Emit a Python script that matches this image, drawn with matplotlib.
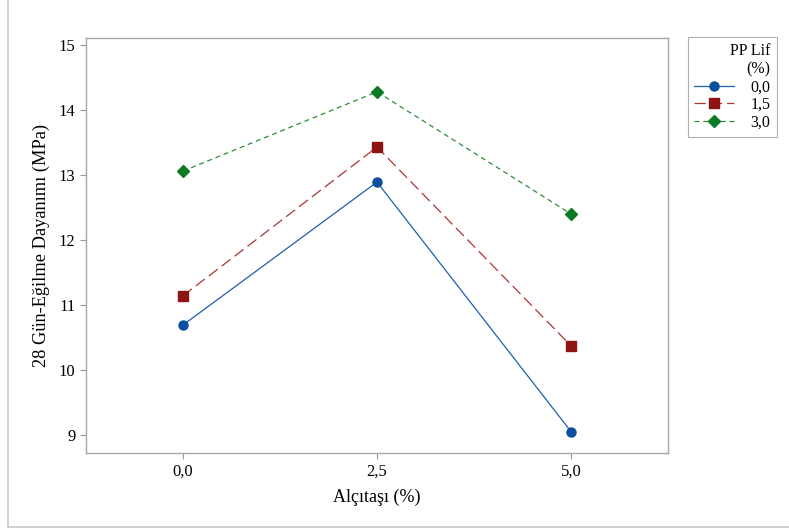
import matplotlib
matplotlib.use("Agg")
import matplotlib.pyplot as plt
from matplotlib.lines import Line2D

plt.rcParams['font.family'] = ['Liberation Serif', 'DejaVu Serif']

# Alçıtaşı (%) levels and mean flexural strength per PP fibre content
alcitasi = [0.0, 2.5, 5.0]
x_labels = ['0,0', '2,5', '5,0']
pp_labels = ['0,0', '1,5', '3,0']
pp_00 = [10.69, 12.89, 9.05]
pp_15 = [11.14, 13.43, 10.37]
pp_30 = [13.06, 14.28, 12.40]

fig = plt.figure(figsize=(7.89, 5.28), dpi=100)
ax = fig.add_axes([86/789, 1-453/528, (668-86)/789, (453-38)/528])

ax.plot(alcitasi, pp_00, color='#1f5fae', marker='o', ms=6.5, lw=0.9,
        ls='-', label=pp_labels[0], markeredgecolor='#0b4f9e', markerfacecolor='#0b4f9e')
ax.plot(alcitasi, pp_15, color='#b03535', marker='s', ms=6.5, lw=0.9,
        ls=(0, (9, 4)), label=pp_labels[1], markeredgecolor='#8e1414', markerfacecolor='#8e1414')
ax.plot(alcitasi, pp_30, color='#2e8b3a', marker='D', ms=6, lw=0.9,
        ls=(0, (4, 3)), label=pp_labels[2], markeredgecolor='#0c7a22', markerfacecolor='#0c7a22')

ax.set_xlim(-1.25, 6.25)
ax.set_ylim(8.72, 15.108)
ax.set_xticks(alcitasi)
ax.set_xticklabels(x_labels)
ax.set_yticks([9, 10, 11, 12, 13, 14, 15])
ax.tick_params(colors='#999999', labelcolor='black', labelsize=12, length=4, width=0.8)

for s in ax.spines.values():
    s.set_color('#a8a8a8')
    s.set_linewidth(1)

ax.set_xlabel('Alçıtaşı (%)', fontsize=13, labelpad=7)
ax.set_ylabel('28 Gün-Eğilme Dayanımı (MPa)', fontsize=13.2, labelpad=6)

leg = ax.legend(loc='upper left', bbox_to_anchor=(688/789, 1-37/528),
                bbox_transform=fig.transFigure, title='PP Lif\n(%)',
                alignment='right', fancybox=False, framealpha=1,
                edgecolor='#b0b0b0', fontsize=11.5, title_fontsize=11.5,
                handlelength=2.5, borderpad=0.4, labelspacing=0.1,
                handletextpad=1.0, borderaxespad=0)
leg.get_frame().set_linewidth(0.8)
leg.get_title().set_multialignment('right')

# outer frame (left and bottom edges only)
fig.add_artist(Line2D([8/789, 8/789], [1/528, 1], transform=fig.transFigure,
                      color='#c8c8c8', lw=1.2))
fig.add_artist(Line2D([8/789, 1], [1/528, 1/528], transform=fig.transFigure,
                      color='#c8c8c8', lw=1.2))

fig.savefig('out.png', dpi=100)
